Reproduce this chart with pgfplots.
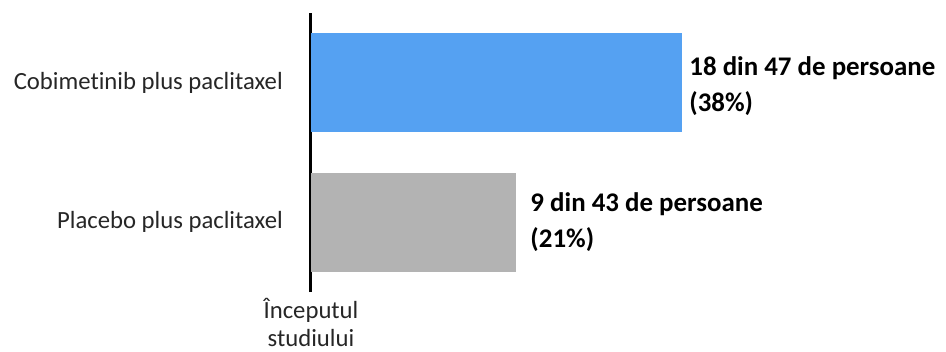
\documentclass[border=0pt]{standalone}
\usepackage{fontspec}
\setmainfont{Carlito}[Ligatures=NoCommon]
\usepackage{pgfplots}
\pgfplotsset{compat=1.18}
\definecolor{barblue}{HTML}{55A1F2}
\definecolor{bargray}{HTML}{B3B3B3}
\begin{document}
\begin{tikzpicture}
\path[use as bounding box] (-311bp,-60bp) rectangle (635bp,292bp);
\begin{axis}[
  at={(0,0)}, anchor=south west,
  scale only axis,
  width=635bp, height=279bp,
  xmin=0, xmax=65.06,
  ymin=-0.5, ymax=1.5,
  xbar, bar width=0.71, bar shift=0pt,
  hide x axis,
  axis y line*=left,
  y axis line style={line width=3bp, black, -},
  ytick={0,1},
  yticklabels={Placebo plus paclitaxel, Cobimetinib plus paclitaxel},
  major tick length=0pt,
  yticklabel style={font=\fontsize{24.8}{28}\selectfont, color=black!85, inner sep=0pt, xshift=-28bp},
  clip=false,
  nodes near coords style={font=\fontsize{27}{36}\selectfont\bfseries, anchor=west, align=left},
]
\addplot[fill=bargray, draw=none, nodes near coords={9 din 43 de persoane\\(21\%)}, nodes near coords style={xshift=11bp}] coordinates {(21,0)};
\addplot[fill=barblue, draw=none, nodes near coords={18 din 47 de persoane\\(38\%)}, nodes near coords style={xshift=4bp, yshift=-3bp}] coordinates {(38,1)};
\node[anchor=north, align=center, font=\fontsize{24.8}{28}\selectfont, color=black!85, inner sep=0pt] at (axis cs:0,-0.5) [yshift=-6bp] {Începutul\\studiului};
\end{axis}
\end{tikzpicture}
\end{document}
